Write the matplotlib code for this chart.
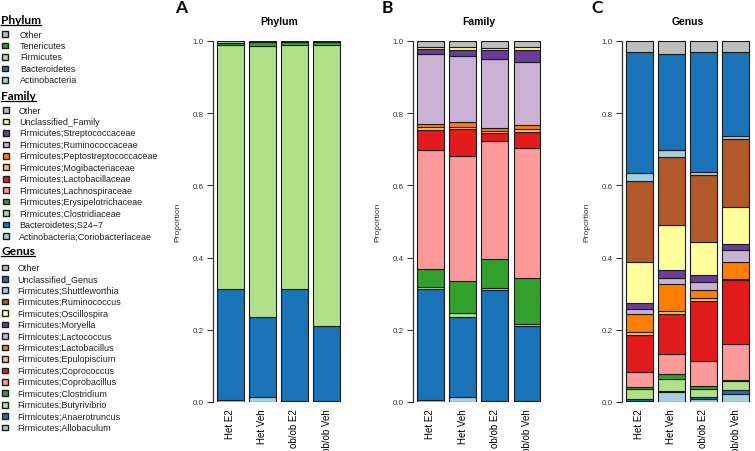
import matplotlib
matplotlib.use("Agg")
import matplotlib.pyplot as plt
from matplotlib.patches import Rectangle
from matplotlib.lines import Line2D

plt.rcParams['font.family'] = ['Liberation Sans', 'DejaVu Sans']

samples = ['Het E2', 'Het Veh', 'ob/ob E2', 'ob/ob Veh']

# stacking order: bottom to top
phylum_taxa = ['Actinobacteria', 'Bacteroidetes', 'Firmicutes', 'Tenericutes', 'Other']
phylum_vals = [
    [0.005, 0.014, 0.002, 0.003],
    [0.309, 0.221, 0.310, 0.207],
    [0.676, 0.750, 0.678, 0.780],
    [0.005, 0.011, 0.006, 0.006],
    [0.005, 0.004, 0.004, 0.004],
]

family_taxa = ['Actinobacteria;Coriobacteriaceae', 'Bacteroidetes;S24\u22127',
               'Firmicutes;Clostridiaceae', 'Firmicutes;Erysipelotrichaceae',
               'Firmicutes;Lachnospiraceae', 'Firmicutes;Lactobacillaceae',
               'Firmicutes;Mogibacteriaceae', 'Firmicutes;Peptostreptococcaceae',
               'Firmicutes;Ruminococcaceae', 'Firmicutes;Streptococcaceae',
               'Unclassified_Family', 'Other']
family_vals = [
    [0.005, 0.014, 0.003, 0.004],
    [0.307, 0.221, 0.306, 0.206],
    [0.007, 0.012, 0.006, 0.007],
    [0.050, 0.087, 0.080, 0.126],
    [0.330, 0.347, 0.327, 0.360],
    [0.054, 0.075, 0.023, 0.046],
    [0.010, 0.005, 0.006, 0.007],
    [0.006, 0.014, 0.009, 0.010],
    [0.194, 0.183, 0.191, 0.175],
    [0.015, 0.017, 0.025, 0.035],
    [0.005, 0.009, 0.004, 0.006],
    [0.017, 0.016, 0.020, 0.018],
]

genus_taxa = ['Firmicutes;Allobaculum', 'Firmicutes;Anaerotruncus',
              'Firmicutes;Butyrivibrio', 'Firmicutes;Clostridium',
              'Firmicutes;Coprobacillus', 'Firmicutes;Coprococcus',
              'Firmicutes;Epulopiscium', 'Firmicutes;Lactobacillus',
              'Firmicutes;Lactococcus', 'Firmicutes;Moryella',
              'Firmicutes;Oscillospira', 'Firmicutes;Ruminococcus',
              'Firmicutes;Shuttleworthia', 'Unclassified_Genus', 'Other']
genus_vals = [
    [0.004, 0.028, 0.009, 0.023],
    [0.004, 0.002, 0.006, 0.009],
    [0.027, 0.035, 0.022, 0.025],
    [0.007, 0.013, 0.006, 0.005],
    [0.041, 0.056, 0.070, 0.099],
    [0.103, 0.110, 0.168, 0.176],
    [0.008, 0.007, 0.007, 0.004],
    [0.050, 0.076, 0.021, 0.046],
    [0.014, 0.017, 0.023, 0.035],
    [0.017, 0.023, 0.019, 0.017],
    [0.112, 0.122, 0.092, 0.101],
    [0.224, 0.190, 0.187, 0.189],
    [0.022, 0.020, 0.008, 0.007],
    [0.337, 0.266, 0.331, 0.233],
    [0.030, 0.035, 0.031, 0.031],
]

# Paired palette + grey for "Other"
LB, B, LG, G = '#A6CEE3', '#1A73B6', '#B2DF8A', '#33A02C'
PK, R, LO, O = '#FB9A99', '#E31A1C', '#FDBF6F', '#FF7F00'
LP, P, Y, BR = '#CAB2D6', '#6A3D9A', '#FFFF99', '#B15928'
GR = '#BEBEBE'
phylum_cols = [LB, B, LG, G, GR]
family_cols = [LB, B, LG, G, PK, R, LO, O, LP, P, Y, GR]
genus_cols = [LB, B, LG, G, PK, R, LO, O, LP, P, Y, BR, LB, B, GR]

W, H = 755, 452
fig = plt.figure(figsize=(W / 100, H / 100), dpi=100)


def fx(px):
    return px / W


def fy(py):
    return 1 - py / H


unit = 26.8  # px per bar width unit
y0, y1 = 403, 42


def panel(left_px, title, letter, letter_x, vals, cols):
    ax = fig.add_axes([fx(left_px), fy(y0), 4.95 * unit / W, (y0 - y1) / H])
    xs = [0.5 + 1.2 * i for i in range(len(samples))]
    bottom = [0.0] * len(samples)
    for v, c in zip(vals, cols):
        ax.bar(xs, v, width=1.0, bottom=bottom, color=c,
               edgecolor='#1a1a1a', linewidth=0.8)
        bottom = [b + h for b, h in zip(bottom, v)]
    ax.set_xlim(-0.15, 4.8)
    ax.set_ylim(0, 1)
    for s in ['top', 'right', 'bottom']:
        ax.spines[s].set_visible(False)
    ax.spines['left'].set_color('#333333')
    ax.spines['left'].set_linewidth(0.9)
    ax.set_yticks([0, 0.2, 0.4, 0.6, 0.8, 1.0])
    ax.set_yticklabels(['0.0', '0.2', '0.4', '0.6', '0.8', '1.0'])
    ax.tick_params(axis='y', length=4.5, width=0.8, labelsize=5.8, pad=2,
                   color='#333333', labelcolor='#333333')
    ax.set_xticks(xs)
    ax.set_xticklabels(samples, rotation=90, fontsize=7.0)
    ax.tick_params(axis='x', length=0, pad=4.5)
    ax.set_ylabel('Proportion', fontsize=6, color='#333333', labelpad=8)
    fig.text(fx(left_px + 66), fy(22), title, fontsize=7.5, fontweight='bold',
             ha='center', va='center')
    fig.text(fx(letter_x), fy(8), letter, fontsize=12.5, fontweight='bold',
             ha='center', va='center', family='Lato')
    return ax


panel(212.7, 'Phylum', 'A', 181, phylum_vals, phylum_cols)
panel(413, 'Family', 'B', 387, family_vals, family_cols)
panel(621.7, 'Genus', 'C', 597, genus_vals, genus_cols)

# legend column (top to bottom = reverse stacking order)
headings = []


def block(heading, head_y, item_y, taxa, cols, sq_x, text_x):
    t = fig.text(fx(1), fy(head_y), heading, fontsize=8.6, fontweight='bold',
                 family='Lato', ha='left', va='center')
    headings.append(t)
    for i, (name, c) in enumerate(zip(taxa[::-1], cols[::-1])):
        yy = item_y + i * 11.45
        fig.add_artist(Rectangle((fx(sq_x), fy(yy + 2.8)), 6 / W, 5.6 / H,
                                 transform=fig.transFigure, facecolor=c,
                                 edgecolor='#1a1a1a', linewidth=1.0))
        fig.text(fx(text_x), fy(yy), name, fontsize=6.5, ha='left', va='center',
                 color='#222222')


block('Phylum', 20.5, 35, phylum_taxa, phylum_cols, 1.5, 20)
block('Family', 97, 111, family_taxa, family_cols, 2.5, 19)
block('Genus', 252, 268.3, genus_taxa, genus_cols, 2, 17.5)

fig.canvas.draw()
r = fig.canvas.get_renderer()
for t in headings:
    bb = t.get_window_extent(r)
    yl = (bb.y0 + 0.5) / fig.bbox.height
    fig.add_artist(Line2D([bb.x0 / fig.bbox.width, bb.x1 / fig.bbox.width],
                          [yl, yl], transform=fig.transFigure,
                          color='black', linewidth=0.9))

fig.savefig('out.png', dpi=100)
